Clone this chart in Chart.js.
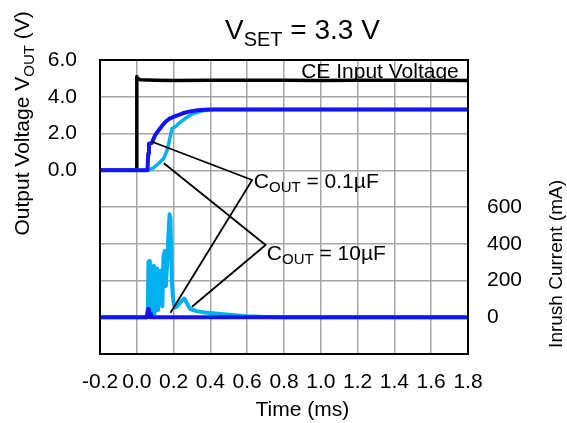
<!DOCTYPE html>
<html><head><meta charset="utf-8">
<script src="https://cdn.jsdelivr.net/npm/chart.js@4.4.1/dist/chart.umd.min.js"></script>
<style>html,body{margin:0;padding:0;background:#fff}#wrap{width:567px;height:423px;position:relative}</style>
</head><body><div id="wrap"><canvas id="c" width="567" height="423"></canvas></div>
<script>
// ---- data ----
const ceTime  = [-0.2, -0.002, 0.0, 0.004, 0.02, 0.1, 0.2, 0.4, 0.6, 0.8, 1.0, 1.2, 1.4, 1.6, 1.8];
const ceVolt  = [0.0, 0.0, 5.1, 5.0, 4.92, 4.9, 4.89, 4.9, 4.9, 4.9, 4.89, 4.9, 4.9, 4.9, 4.88];

const vout01Time = [-0.2, 0.058, 0.062, 0.066, 0.08, 0.086, 0.1, 0.12, 0.14, 0.156, 0.18, 0.21, 0.25, 0.283, 0.33, 0.39, 0.5, 0.7, 1.0, 1.8];
const vout01Volt = [0.0, 0.0, 0.9, 1.45, 1.47, 1.6, 1.92, 2.19, 2.45, 2.64, 2.82, 2.95, 3.1, 3.19, 3.26, 3.3, 3.31, 3.31, 3.31, 3.31];

const vout10Time = [-0.2, 0.06, 0.09, 0.12, 0.147, 0.165, 0.178, 0.188, 0.192, 0.21, 0.228, 0.265, 0.3, 0.355, 0.42, 0.5, 1.8];
const vout10Volt = [0.0, 0.0, 0.12, 0.38, 0.65, 1.1, 1.65, 2.1, 2.28, 2.37, 2.55, 2.83, 3.06, 3.24, 3.3, 3.31, 3.31];

const iin10Time = [-0.2, 0.055, 0.06, 0.063, 0.067, 0.071, 0.078, 0.083, 0.088, 0.093, 0.097, 0.101, 0.106, 0.11, 0.116, 0.121, 0.127, 0.133, 0.139, 0.145, 0.152, 0.158, 0.165, 0.172, 0.178, 0.183, 0.19, 0.198, 0.207, 0.22, 0.24, 0.258, 0.27, 0.29, 0.33, 0.37, 0.43, 0.5, 0.6, 0.7, 0.8, 1.8];
const iin10mA   = [0, 0, 0, 300, 306, 20, 10, 270, 50, 280, 20, 260, 60, 265, 40, 250, 120, 255, 60, 330, 361, 170, 300, 450, 560, 540, 200, 90, 53, 60, 85, 102, 80, 45, 32, 26, 20, 14, 6, 2, 0, 0];

const iin01Time = [-0.2, 0.055, 0.058, 0.062, 0.066, 0.072, 0.076, 0.08, 0.085, 1.8];
const iin01mA   = [0, 0, 30, 44, 8, 0, 20, 5, 0, 0];

// leader lines (time, volts on the left axis): Vout end -> label -> current end
const lead01Time = [0.083, 0.627, 0.183];
const lead01Volt = [1.55, -0.53, -7.75];
const lead10Time = [0.147, 0.70, 0.30];
const lead10Volt = [0.38, -4.07, -7.43];

const xTickValues = [-0.2, 0.0, 0.2, 0.4, 0.6, 0.8, 1.0, 1.2, 1.4, 1.6, 1.8];

const pts = (t, v) => t.map((x, i) => ({x, y: v[i]}));
const FONT = "'Liberation Sans', Arial, sans-serif";
const BLUE = '#1414ee', CYAN = '#00b0f0';

function drawParts(ctx, parts, x, y) {
  let cx = x;
  for (const [t, s, dy] of parts) {
    ctx.font = s + 'px ' + FONT;
    ctx.fillText(t, cx, y + dy);
    cx += ctx.measureText(t).width;
  }
  return cx - x;
}
function partsWidth(ctx, parts) {
  let w = 0;
  for (const [t, s] of parts) { ctx.font = s + 'px ' + FONT; w += ctx.measureText(t).width; }
  return w;
}

const textPlugin = {
  id: 'texts',
  afterDatasetsDraw(chart) {
    const ctx = chart.ctx, a = chart.chartArea;
    const xs = chart.scales.x, ys = chart.scales.y;
    ctx.save();
    ctx.strokeStyle = '#000'; ctx.lineWidth = 2;
    ctx.strokeRect(a.left, a.top, a.right - a.left, a.bottom - a.top);
    ctx.fillStyle = '#000';
    ctx.textBaseline = 'alphabetic'; ctx.textAlign = 'left';
    // title
    drawParts(ctx, [['V', 28, 0], ['SET', 20, 7], [' = 3.3 V', 28, 0]], 225, 39);
    // CE Input Voltage
    ctx.font = '21px ' + FONT;
    ctx.textAlign = 'right';
    ctx.fillText('CE Input Voltage', xs.getPixelForValue(1.75), ys.getPixelForValue(5.02));
    ctx.textAlign = 'left';
    // C_OUT labels
    drawParts(ctx, [['C', 21, 0], ['OUT', 15, 4], [' = 0.1µF', 21, 0]], xs.getPixelForValue(0.636), ys.getPixelForValue(-0.966));
    drawParts(ctx, [['C', 21, 0], ['OUT', 15, 4], [' = 10µF', 21, 0]], xs.getPixelForValue(0.7065), ys.getPixelForValue(-4.86));
    // x title
    ctx.font = '21px ' + FONT; ctx.textAlign = 'center';
    ctx.fillText('Time (ms)', xs.getPixelForValue(0.9), a.bottom + 62);
    ctx.textAlign = 'left';
    // left title (rotated)
    const lp = [['Output Voltage V', 21, 0], ['OUT', 15, 5], [' (V)', 21, 0]];
    ctx.save();
    ctx.translate(a.left - 71, ys.getPixelForValue(2.55));
    ctx.rotate(-Math.PI / 2);
    drawParts(ctx, lp, -partsWidth(ctx, lp) / 2, 0);
    ctx.restore();
    // right title
    const rp = [['Inrush Current (mA)', 19, 0]];
    ctx.save();
    ctx.translate(a.right + 94, chart.scales.y2.getPixelForValue(290));
    ctx.rotate(-Math.PI / 2);
    drawParts(ctx, rp, -partsWidth(ctx, rp) / 2, 0);
    ctx.restore();
    ctx.restore();
  }
};

const line = (data, color, width, order, axis) => ({
  data, borderColor: color, borderWidth: width, order, yAxisID: axis,
  pointRadius: 0, tension: 0, fill: false, borderJoinStyle: 'round', borderCapStyle: 'butt'
});

new Chart(document.getElementById('c'), {
  type: 'line',
  data: {
    datasets: [
      line(pts(lead01Time, lead01Volt), '#000', 1.8, 0, 'y'),
      line(pts(lead10Time, lead10Volt), '#000', 1.8, 1, 'y'),
      line(pts(vout01Time, vout01Volt), BLUE, 4, 2, 'y'),
      line(pts(iin01Time, iin01mA), BLUE, 4, 3, 'y2'),
      line(pts(vout10Time, vout10Volt), CYAN, 3.5, 4, 'y'),
      line(pts(iin10Time, iin10mA), CYAN, 4, 5, 'y2'),
      line(pts(ceTime, ceVolt), '#000', 3.5, 6, 'y')
    ]
  },
  options: {
    responsive: false, animation: false,
    layout: { padding: { top: 60, left: 0, right: 0, bottom: 0 } },
    plugins: { legend: { display: false }, tooltip: { enabled: false }, title: { display: false } },
    scales: {
      x: {
        type: 'linear', min: -0.2, max: 1.8,
        afterBuildTicks: s => { s.ticks = xTickValues.map(v => ({ value: v })); },
        afterFit: s => { s.height = 69; },
        grid: { color: '#a6a6a6', lineWidth: 1.5, drawTicks: false },
        border: { display: false },
        ticks: { autoSkip: false, maxRotation: 0, padding: 16, color: '#000', font: { family: FONT, size: 21 },
          callback: v => (Math.abs(v) < 1e-9 ? '0.0' : v.toFixed(1)) }
      },
      y: {
        type: 'linear', position: 'left', min: -10, max: 6,
        ticks: { stepSize: 2, padding: 23, color: '#000', font: { family: FONT, size: 21 },
          callback: v => (v >= 0 ? v.toFixed(1) : '') },
        afterFit: s => { s.width = 100; },
        grid: { color: '#a6a6a6', lineWidth: 1.5, drawTicks: false },
        border: { display: false }
      },
      y2: {
        type: 'linear', position: 'right', min: -200, max: 1400,
        ticks: { stepSize: 200, padding: 19, color: '#000', font: { family: FONT, size: 21 },
          callback: v => (v >= 0 && v <= 600 ? String(v) : '') },
        afterFit: s => { s.width = 99; },
        grid: { display: false, drawTicks: false },
        border: { display: false }
      }
    }
  },
  plugins: [textPlugin]
});
</script>
</body></html>
